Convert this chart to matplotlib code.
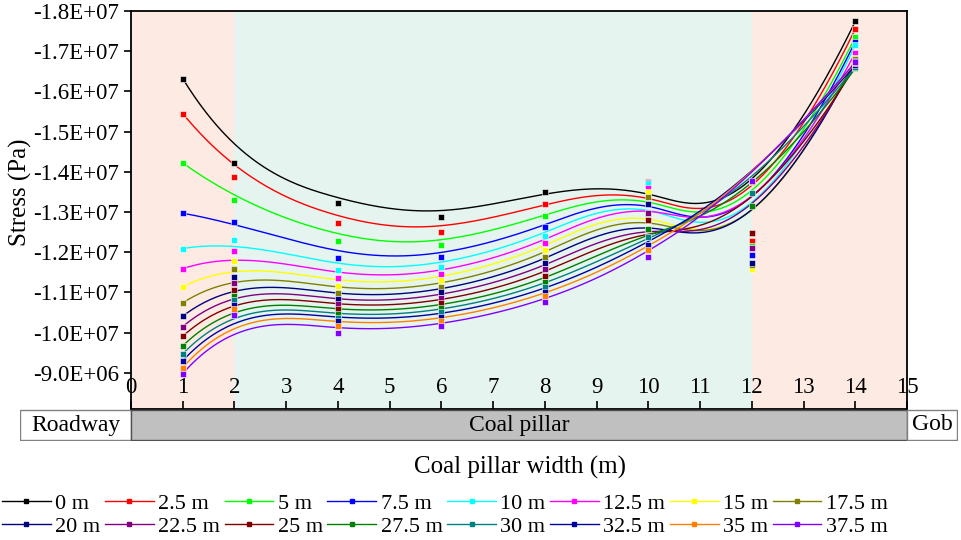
import numpy as np
import matplotlib
matplotlib.use("Agg")
import matplotlib.pyplot as plt
from matplotlib.patches import Rectangle
from matplotlib.ticker import FormatStrFormatter

plt.rcParams['font.family'] = ['Liberation Serif', 'DejaVu Serif']

# ---- data (stress magnitude, x1e6 Pa; plotted as negative values) ----
positions = [1, 2, 4, 6, 8, 10, 12, 14]
labels = ['0 m', '2.5 m', '5 m', '7.5 m', '10 m', '12.5 m', '15 m', '17.5 m',
          '20 m', '22.5 m', '25 m', '27.5 m', '30 m', '32.5 m', '35 m', '37.5 m']
colors = ['#000000', '#FF0000', '#00FF00', '#0000FF', '#00FFFF', '#FF00FF',
          '#FFFF00', '#808000', '#000080', '#800080', '#800000', '#008000',
          '#008080', '#0000A0', '#FF8000', '#8000FF']
s0    = [16.32, 14.22, 13.23, 12.87, 13.51, 13.75, 12.48, 17.74]
s2_5  = [15.45, 13.88, 12.72, 12.51, 13.20, 13.74, 12.28, 17.55]
s5    = [14.22, 13.30, 12.28, 12.17, 12.91, 13.73, 12.15, 17.35]
s7_5  = [12.97, 12.74, 11.86, 11.87, 12.63, 13.72, 11.94, 17.24]
s10   = [12.09, 12.31, 11.56, 11.64, 12.41, 13.69, 11.74, 17.15]
s12_5 = [11.59, 12.02, 11.35, 11.45, 12.22, 13.60, 12.10, 16.96]
s15   = [11.14, 11.79, 11.16, 11.30, 12.06, 13.50, 11.59, 16.83]
s17_5 = [10.74, 11.57, 10.99, 11.14, 11.89, 13.37, 11.67, 16.80]
s20   = [10.41, 11.39, 10.84, 11.00, 11.73, 13.19, 11.74, 16.75]
s22_5 = [10.15, 11.23, 10.70, 10.87, 11.57, 12.97, 12.10, 16.68]
s25   = [9.91, 11.07, 10.59, 10.74, 11.41, 12.79, 12.48, 16.62]
s27_5 = [9.67, 10.92, 10.47, 10.62, 11.26, 12.57, 13.15, 16.57]
s30   = [9.47, 10.80, 10.36, 10.51, 11.14, 12.37, 13.47, 16.60]
s32_5 = [9.30, 10.69, 10.28, 10.40, 11.02, 12.19, 13.74, 16.65]
s35   = [9.13, 10.58, 10.17, 10.29, 10.90, 12.05, 13.75, 16.70]
s37_5 = [8.98, 10.45, 10.00, 10.16, 10.76, 11.89, 13.76, 16.72]
series = [s0, s2_5, s5, s7_5, s10, s12_5, s15, s17_5,
          s20, s22_5, s25, s27_5, s30, s32_5, s35, s37_5]
xticks = list(range(0, 16))
yticks = [-9e6, -1e7, -1.1e7, -1.2e7, -1.3e7, -1.4e7, -1.5e7, -1.6e7, -1.7e7, -1.8e7]


def bspline(cx, cy, k=3, num=400):
    """Clamped B-spline using the data points as control points."""
    cx = np.asarray(cx, float)
    cy = np.asarray(cy, float)
    n = len(cx)
    knots = np.concatenate([np.zeros(k), np.arange(n - k + 1), np.full(k, n - k)])
    t = np.linspace(0, n - k, num)
    t[-1] -= 1e-9
    N = np.array([((knots[i] <= t) & (t < knots[i + 1])).astype(float)
                  for i in range(len(knots) - 1)])
    for d in range(1, k + 1):
        Nn = np.zeros((len(knots) - 1 - d, len(t)))
        for i in range(len(knots) - 1 - d):
            a = knots[i + d] - knots[i]
            b = knots[i + d + 1] - knots[i + 1]
            term = 0
            if a > 0:
                term = term + (t - knots[i]) / a * N[i]
            if b > 0:
                term = term + (knots[i + d + 1] - t) / b * N[i + 1]
            Nn[i] = term
        N = Nn
    return N.T @ cx, N.T @ cy


W, H = 962, 540
fig = plt.figure(figsize=(W / 100, H / 100), dpi=100)
L, R, T, B = 131, 907, 11, 409
ax = fig.add_axes([L / W, 1 - B / H, (R - L) / W, (B - T) / H])

# background zones
ax.axvspan(0, 2, color='#fdeae2', zorder=0, lw=0)
ax.axvspan(2, 12, color='#e6f4ef', zorder=0, lw=0)
ax.axvspan(12, 15, color='#fdeae2', zorder=0, lw=0)

for vals, c in zip(series, colors):
    yv = -np.array(vals) * 1e6
    bx_, by_ = bspline(positions, yv)
    ax.plot(bx_, by_, color=c, lw=1.0, zorder=2)
for vals, c in zip(series, colors):
    yv = -np.array(vals) * 1e6
    ax.plot(positions, yv, ls='none', marker='s', ms=4.5, mfc=c, mec='white',
            mew=0.4, zorder=3)
handles = []
for c, lab in zip(colors, labels):
    h, = ax.plot([], [], color=c, lw=1.0, marker='s', ms=3.5, mec=c, label=lab)
    handles.append(h)

ax.set_xlim(0, 15)
ax.set_ylim(-8.1e6, -1.8e7)
ax.set_xticks(xticks)
ax.set_yticks(yticks)
ax.yaxis.set_major_formatter(FormatStrFormatter('%.1E'))
ax.tick_params(axis='x', direction='in', length=6, width=1.2, pad=-23,
               labelsize=16.5)
ax.tick_params(axis='y', direction='out', length=5, width=1.2, labelsize=16.5)
for sp in ax.spines.values():
    sp.set_linewidth(1.3)
ax.set_ylabel('Stress (Pa)', fontsize=18)
ax.yaxis.set_label_coords(-0.128, 0.545)

# zone bar below the axes
bx = fig.add_axes([20 / W, 1 - 441 / H, (958 - 20) / W, 32 / H])
x0 = (20 - L) / ((R - L) / 15)
x1 = (958 - L) / ((R - L) / 15)
bx.set_xlim(x0, x1)
bx.set_ylim(0, 1)
bx.axis('off')
bx.add_patch(Rectangle((x0, 0.02), -x0, 0.96, fc='white', ec='#808080', lw=1.0))
bx.add_patch(Rectangle((0, 0.02), 15, 0.96, fc='#c0c0c0', ec='#505050', lw=1.0))
bx.add_patch(Rectangle((15, 0.02), x1 - 15 - 0.02, 0.96, fc='white', ec='#808080', lw=1.0))
bx.text(x0 / 2, 0.5, 'Roadway', ha='center', va='center', fontsize=17)
bx.text(7.5, 0.5, 'Coal pillar', ha='center', va='center', fontsize=17)
bx.text((15 + x1) / 2, 0.5, 'Gob', ha='center', va='center', fontsize=17)

fig.text(520 / W, 1 - 467 / H, 'Coal pillar width (m)', ha='center',
         va='center', fontsize=18)

# legend: row-major order for 2 rows x 8 columns
ncol = 8
order = [r * ncol + c for c in range(ncol) for r in range(2)]
fig.legend(handles=[handles[i] for i in order],
           labels=[labels[i] for i in order],
           loc='center left', bbox_to_anchor=(2 / W, 1 - 515 / H),
           ncol=ncol, frameon=False, fontsize=16, handlelength=2.2,
           handletextpad=0.2, columnspacing=0.2, labelspacing=0.1,
           borderaxespad=0, borderpad=0)

fig.savefig('out.png', dpi=100)
